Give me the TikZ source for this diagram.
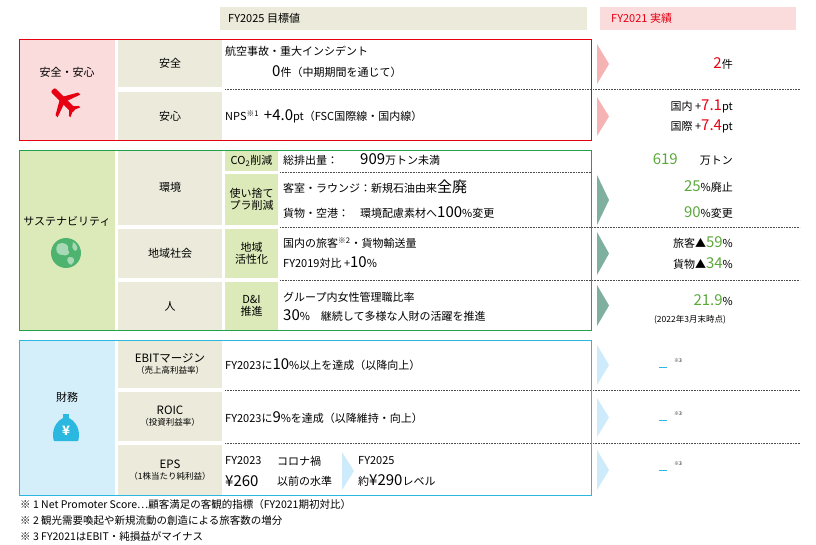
\documentclass[tikz,border=0pt]{standalone}
\usepackage{fontspec}
\setmainfont{Noto Sans CJK JP}
\usetikzlibrary{positioning}
\definecolor{beige}{HTML}{ECEADB}
\definecolor{pinkbg}{HTML}{FADCDC}
\definecolor{greenbg}{HTML}{DCEAB9}
\definecolor{bluebg}{HTML}{D4EEFA}
\definecolor{ancred}{HTML}{E60012}
\definecolor{ancgreen}{HTML}{22A04A}
\definecolor{valgreen}{HTML}{5BA73A}
\definecolor{anccyan}{HTML}{2BB8E0}
\definecolor{chevred}{HTML}{F6B3B3}
\definecolor{chevgreen}{HTML}{7FB09F}
\definecolor{chevblue}{HTML}{CDEBFA}
\newcommand{\tx}{\fontsize{11}{12}\selectfont}
\newcommand{\bignum}[1]{{\fontsize{15}{15}\selectfont #1}}
\tikzset{
  cell/.style={inner sep=0pt, align=center, font=\tx},
  txt/.style={anchor=west, inner sep=0pt, font=\tx},
  val/.style={anchor=east, inner sep=0pt, font=\tx},
  note/.style={anchor=west, inner sep=0pt, font=\fontsize{10.5}{11}\selectfont},
  sep/.style={densely dotted, line width=0.6pt, black!70},
}
\newcommand{\cellbox}[6]{% name, x1, y1, x2, y2, fill
  \fill[#6] (#2,#3) rectangle (#4,#5);
  \coordinate (#1) at ({(#2+#4)/2},{(#3+#5)/2});}
\newcommand{\chev}[4]{% x, top, bottom, color
  \fill[#4] (#1,#2) -- ({#1+12},{(#2+#3)/2}) -- (#1,#3) -- cycle;}
\begin{document}
\begin{tikzpicture}[x=1pt, y=-1pt]
  \useasboundingbox (0,0) rectangle (816,545);

  % headers
  \fill[beige] (220,7) rectangle (587,30);
  \node[txt] (goalhead) at (228,18.5) {FY2025 目標値};
  \fill[pinkbg] (600,7) rectangle (796,30);
  \node[txt, text=ancred] (resulthead) at (611,18.5) {FY2021 実績};

  % safety
  \cellbox{safeL}{19}{39}{115}{140}{pinkbg}
  \cellbox{safeA}{118}{39}{222}{87}{beige}
  \cellbox{safeB}{118}{92}{222}{140}{beige}
  \node[cell] (safetitle) at (67,72) {安全・安心};
  \begin{scope}[shift={(64,101)}, rotate=45, ancred]
    \fill[rounded corners=2pt] (-3,-16) rectangle (3,14);
    \fill (-2,-4) -- (-16,4) -- (-16,7) -- (-2,2) -- cycle;
    \fill (2,-4) -- (16,4) -- (16,7) -- (2,2) -- cycle;
    \fill (-1.5,9) -- (-7,14) -- (-7,16) -- (0,13) -- (7,16) -- (7,14) -- (1.5,9) -- cycle;
  \end{scope}
  \node[cell] (safeAt) at (safeA) {安全};
  \node[cell] (safeBt) at (safeB) {安心};
  \draw[sep] (225,89.5) -- (800,89.5);
  \node[txt] (acc) at (225,51) {航空事故・重大インシデント};
  \node[txt] (acc2) at (272,72) {\bignum{0}件（中期期間を通じて）};
  \node[txt] (nps) at (225,116) {NPS\textsuperscript{※1}\ \ \bignum{+4.0}pt（FSC国際線・国内線）};
  \draw[ancred, line width=0.8pt] (19,39) rectangle (591,140);
  \chev{597}{44}{84}{chevred}
  \chev{597}{97}{136}{chevred}
  \node[val] (r2) at (733,63) {\bignum{\textcolor{ancred}{2}}件};
  \node[val] (rdom) at (733,106) {国内 +\bignum{\textcolor{ancred}{7.1}}pt};
  \node[val] (rint) at (733,126) {国際 +\bignum{\textcolor{ancred}{7.4}}pt};

  % sustainability
  \cellbox{susL}{19}{150}{115}{330}{greenbg}
  \cellbox{envA}{118}{150}{222}{225}{beige}
  \cellbox{comA}{118}{229}{222}{278}{beige}
  \cellbox{hmnA}{118}{282}{222}{330}{beige}
  \cellbox{co2B}{225}{150}{278}{171}{greenbg}
  \cellbox{plaB}{225}{174}{278}{225}{greenbg}
  \cellbox{comB}{225}{229}{278}{278}{greenbg}
  \cellbox{dniB}{225}{282}{278}{330}{greenbg}
  \node[cell] (sustitle) at (67,221) {サステナビリティ};
  \begin{scope}[shift={(66,253)}]
    \fill[ancgreen!80] (0,0) circle (15);
    \fill[white!60!ancgreen] (-8,-9) .. controls (-2,-12) and (4,-8) .. (2,-3) .. controls (6,0) and (0,4) .. (-3,2) .. controls (-9,3) and (-12,-4) .. cycle;
    \fill[white!60!ancgreen] (3,4) .. controls (9,3) and (10,9) .. (5,12) .. controls (1,10) and (0,6) .. cycle;
    \fill[white!60!ancgreen] (7,-11) .. controls (12,-8) and (13,-3) .. (9,-2) .. controls (6,-5) .. cycle;
  \end{scope}
  \node[cell] (envAt) at (envA) {環境};
  \node[cell] (comAt) at (comA) {地域社会};
  \node[cell] (hmnAt) at (hmnA) {人};
  \node[cell] (co2Bt) at (co2B) {CO\textsubscript{2}削減};
  \node[cell] (plaBt) at (plaB) {使い捨て\\プラ削減};
  \node[cell] (comBt) at (comB) {地域\\活性化};
  \node[cell] (dniBt) at (dniB) {D\&I\\推進};
  \draw[sep] (280,172.5) -- (591,172.5);
  \draw[sep] (280,227) -- (800,227);
  \draw[sep] (280,280) -- (800,280);
  \node[txt] (co2a) at (283,160) {総排出量：};
  \node[txt] (co2b) at (360,160) {\bignum{909}万トン未満};
  \node[txt] (pla1) at (283,187) {客室・ラウンジ：新規石油由来\bignum{全廃}};
  \node[txt] (pla2a) at (283,213) {貨物・空港：};
  \node[txt] (pla2b) at (360,213) {環境配慮素材へ\bignum{100}\%変更};
  \node[txt] (com1) at (283,243) {国内の旅客\textsuperscript{※2}・貨物輸送量};
  \node[txt] (com2) at (283,262) {FY2019対比 +\bignum{10}\%};
  \node[txt] (dni1) at (283,297) {グループ内女性管理職比率};
  \node[txt] (dni2) at (283,316) {\bignum{30}\%\quad 継続して多様な人財の活躍を推進};
  \draw[ancgreen, line width=0.8pt] (19,150) rectangle (591,330);
  \chev{597}{175}{225}{chevgreen}
  \chev{597}{232}{275}{chevgreen}
  \chev{597}{285}{326}{chevgreen}
  \node[val] (rco2) at (733,160) {\bignum{\textcolor{valgreen}{619}}\qquad 万トン};
  \node[val] (rpla1) at (733,187) {\bignum{\textcolor{valgreen}{25}}\%廃止};
  \node[val] (rpla2) at (733,213) {\bignum{\textcolor{valgreen}{90}}\%変更};
  \node[val] (rcom1) at (733,243) {旅客▲\bignum{\textcolor{valgreen}{59}}\%};
  \node[val] (rcom2) at (733,264) {貨物▲\bignum{\textcolor{valgreen}{34}}\%};
  \node[val] (rdni) at (733,300) {\bignum{\textcolor{valgreen}{21.9}}\%};
  \node[cell, font=\fontsize{8.5}{9}\selectfont] (rdninote) at (690,320) {(2022年3月末時点)};

  % finance
  \cellbox{finL}{19}{340}{115}{495}{bluebg}
  \cellbox{ebitA}{118}{340}{222}{388}{beige}
  \cellbox{roicA}{118}{392}{222}{441}{beige}
  \cellbox{epsA}{118}{445}{222}{495}{beige}
  \node[cell] (fintitle) at (67,397) {財務};
  \begin{scope}[shift={(66,428)}, anccyan]
    \fill (-3,-14) rectangle (3,-9);
    \fill (-3,-10) .. controls (-14,-4) and (-14,8) .. (-12,13) -- (12,13) .. controls (14,8) and (14,-4) .. (3,-10) -- cycle;
    \node[text=white, font=\bfseries\fontsize{13}{13}\selectfont] (yen) at (0,3) {¥};
  \end{scope}
  \node[cell] (ebitAt) at (ebitA) {\fontsize{11.5}{13}\selectfont EBITマージン\\[-1pt]{\fontsize{8.5}{9}\selectfont （売上高利益率）}};
  \node[cell] (roicAt) at (roicA) {\fontsize{11.5}{13}\selectfont ROIC\\[-1pt]{\fontsize{8.5}{9}\selectfont （投資利益率）}};
  \node[cell] (epsAt) at (epsA) {\fontsize{11.5}{13}\selectfont EPS\\[-1pt]{\fontsize{8.5}{9}\selectfont （1株当たり純利益）}};
  \draw[sep] (225,390) -- (800,390);
  \draw[sep] (225,443) -- (800,443);
  \node[txt] (ebit1) at (225,365) {FY2023に\bignum{10}\%以上を達成（以降向上）};
  \node[txt] (roic1) at (225,418) {FY2023に\bignum{9}\%を達成（以降維持・向上）};
  \node[txt] (eps1) at (225,461) {FY2023};
  \node[txt] (eps2) at (225,481) {\bignum{¥260}};
  \node[txt] (eps3) at (277,461) {コロナ禍};
  \node[txt] (eps4) at (277,481) {以前の水準};
  \chev{342}{452}{490}{chevblue}
  \node[txt] (eps5) at (358,461) {FY2025};
  \node[txt] (eps6) at (358,481) {約\bignum{¥290}レベル};
  \draw[anccyan, line width=0.8pt] (19,340) rectangle (591,495);
  \chev{597}{345}{385}{chevblue}
  \chev{597}{398}{437}{chevblue}
  \chev{597}{450}{490}{chevblue}
  \foreach \yy/\nm in {365/rebit, 418/rroic, 468/reps}{
    \draw[anccyan, line width=0.7pt] (659,\yy+2) -- (667,\yy+2);
    \node[txt, font=\fontsize{5}{6}\selectfont] (\nm) at (674,\yy-4) {※3};
  }

  % notes
  \node[note] (note1) at (20,505) {※ 1 Net Promoter Score…顧客満足の客観的指標（FY2021期初対比）};
  \node[note] (note2) at (20,521) {※ 2 観光需要喚起や新規流動の創造による旅客数の増分};
  \node[note] (note3) at (20,536) {※ 3 FY2021はEBIT・純損益がマイナス};
\end{tikzpicture}
\end{document}
